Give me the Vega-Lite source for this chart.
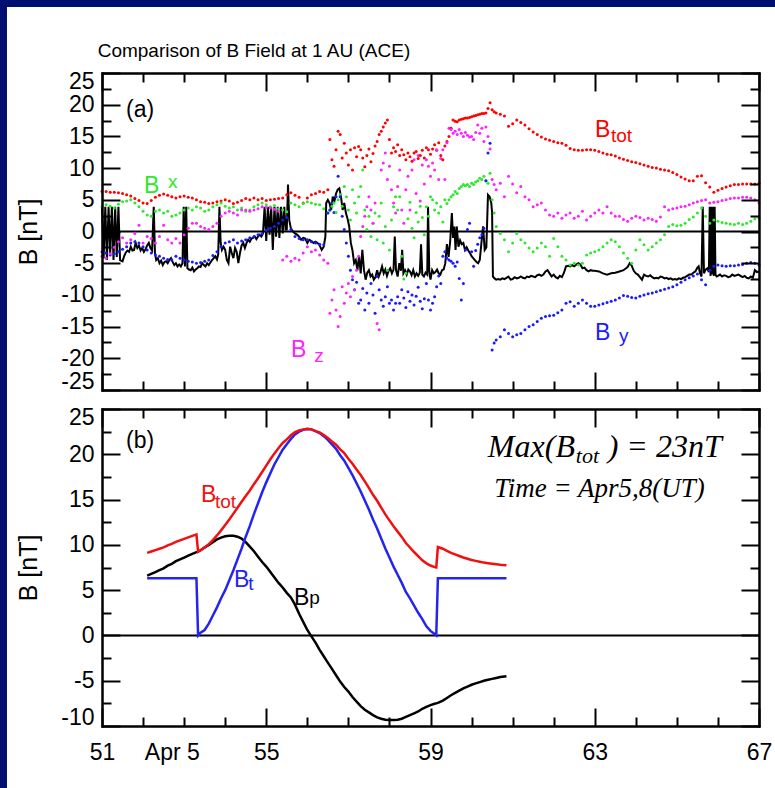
{
"$schema": "https://vega.github.io/schema/vega-lite/v6.json",
"background": "#001070",
"padding": {"left": 6, "top": 7, "right": 0, "bottom": 0},
"bounds": "flush",
"spacing": 19,
"resolve": {"scale": {"color": "independent"}},
"config": {
  "view": {"stroke": null},
  "axis": {"grid": false, "domainColor": "#000000", "domainWidth": 2, "domainCap": "square", "tickColor": "#000000", "tickWidth": 2, "labelFont": "Liberation Sans", "labelFontSize": 23, "labelColor": "#000000", "titleFont": "Liberation Sans", "titleFontSize": 25, "titleFontWeight": "normal", "titleColor": "#000000", "labelOverlap": false, "labelFlushOffset": 3}
},
"datasets": {
"ace": [
{"t":51.0,"Btot":6.3,"Bx":3.9,"By":-3.2,"Bz":-3.9},
{"t":51.1,"Btot":6.3,"Bx":4.2,"By":-3.4,"Bz":-4.2},
{"t":51.2,"Btot":6.2,"Bx":4.0,"By":-3.7,"Bz":-3.5},
{"t":51.3,"Btot":6.2,"Bx":3.7,"By":-3.5,"Bz":-2.5},
{"t":51.4,"Btot":6.1,"Bx":4.3,"By":-3.2,"Bz":-1.6},
{"t":51.5,"Btot":6.0,"Bx":4.7,"By":-2.8,"Bz":-1.0},
{"t":51.6,"Btot":5.8,"Bx":4.8,"By":-2.4,"Bz":-1.8},
{"t":51.7,"Btot":5.6,"Bx":5.0,"By":-1.8,"Bz":-1.3},
{"t":51.8,"Btot":5.2,"Bx":4.5,"By":-1.6,"Bz":-0.3},
{"t":51.9,"Btot":4.9,"Bx":3.9,"By":-1.8,"Bz":1.0},
{"t":52.0,"Btot":4.5,"Bx":3.2,"By":-2.4,"Bz":-1.8},
{"t":52.1,"Btot":4.4,"Bx":2.6,"By":-2.9,"Bz":-0.8},
{"t":52.2,"Btot":4.9,"Bx":2.4,"By":-3.4,"Bz":-1.1},
{"t":52.3,"Btot":5.4,"Bx":3.2,"By":-3.7,"Bz":-1.8},
{"t":52.4,"Btot":5.7,"Bx":3.4,"By":-3.9,"Bz":-0.8},
{"t":52.5,"Btot":5.9,"Bx":2.9,"By":-4.2,"Bz":1.0},
{"t":52.6,"Btot":5.7,"Bx":3.2,"By":-4.4,"Bz":-1.3},
{"t":52.7,"Btot":5.5,"Bx":2.4,"By":-4.5,"Bz":-1.8},
{"t":52.8,"Btot":5.3,"Bx":2.6,"By":-3.9,"Bz":-1.1},
{"t":52.9,"Btot":5.5,"Bx":2.9,"By":-4.2,"Bz":-1.8},
{"t":53.0,"Btot":5.6,"Bx":3.4,"By":-4.5,"Bz":-0.5},
{"t":53.1,"Btot":5.4,"Bx":3.7,"By":-4.7,"Bz":0.5},
{"t":53.2,"Btot":5.3,"Bx":3.4,"By":-4.8,"Bz":1.3},
{"t":53.3,"Btot":5.0,"Bx":3.9,"By":-5.0,"Bz":1.3},
{"t":53.4,"Btot":4.7,"Bx":3.7,"By":-4.9,"Bz":0.8},
{"t":53.5,"Btot":4.6,"Bx":3.2,"By":-4.7,"Bz":0.5},
{"t":53.6,"Btot":4.4,"Bx":3.4,"By":-4.5,"Bz":0.3},
{"t":53.7,"Btot":4.5,"Bx":3.9,"By":-3.8,"Bz":0.8},
{"t":53.8,"Btot":4.7,"Bx":4.2,"By":-3.2,"Bz":1.3},
{"t":53.9,"Btot":4.8,"Bx":4.5,"By":-2.4,"Bz":2.4},
{"t":54.0,"Btot":5.0,"Bx":4.0,"By":-1.8,"Bz":2.9},
{"t":54.1,"Btot":4.8,"Bx":3.7,"By":-1.6,"Bz":3.2},
{"t":54.2,"Btot":4.4,"Bx":3.9,"By":-1.3,"Bz":2.9},
{"t":54.3,"Btot":4.6,"Bx":3.4,"By":-1.8,"Bz":2.6},
{"t":54.4,"Btot":4.9,"Bx":3.7,"By":-1.5,"Bz":3.4},
{"t":54.5,"Btot":5.2,"Bx":3.2,"By":-1.3,"Bz":3.4},
{"t":54.6,"Btot":5.0,"Bx":3.4,"By":-1.0,"Bz":3.2},
{"t":54.7,"Btot":5.3,"Bx":3.9,"By":-0.8,"Bz":3.4},
{"t":54.8,"Btot":5.0,"Bx":4.2,"By":-0.5,"Bz":3.6},
{"t":54.9,"Btot":5.2,"Bx":4.5,"By":-0.3,"Bz":3.9},
{"t":55.0,"Btot":4.9,"Bx":4.2,"By":0.2,"Bz":3.8},
{"t":55.1,"Btot":5.0,"Bx":3.9,"By":0.5,"Bz":3.7},
{"t":55.2,"Btot":5.1,"Bx":4.1,"By":0.8,"Bz":3.5},
{"t":55.3,"Btot":5.2,"Bx":3.6,"By":1.3,"Bz":3.2},
{"t":55.4,"Btot":5.3,"Bx":3.4,"By":1.8,"Bz":-4.5},
{"t":55.5,"Btot":5.8,"Bx":3.1,"By":2.2,"Bz":-3.9},
{"t":55.6,"Btot":6.1,"Bx":4.5,"By":0.3,"Bz":-4.7},
{"t":55.7,"Btot":5.7,"Bx":4.2,"By":-0.8,"Bz":-4.2},
{"t":55.8,"Btot":5.4,"Bx":3.9,"By":-1.1,"Bz":-4.5},
{"t":55.9,"Btot":4.5,"Bx":4.4,"By":-1.3,"Bz":-3.4},
{"t":56.0,"Btot":5.3,"Bx":4.7,"By":-1.3,"Bz":-2.4},
{"t":56.1,"Btot":5.8,"Bx":4.5,"By":-1.6,"Bz":-3.2},
{"t":56.2,"Btot":6.0,"Bx":4.3,"By":-1.8,"Bz":-2.9},
{"t":56.3,"Btot":6.3,"Bx":4.2,"By":-2.0,"Bz":-3.7},
{"t":56.4,"Btot":6.2,"Bx":3.6,"By":-2.1,"Bz":-4.5},
{"t":56.5,"Btot":6.6,"Bx":2.9,"By":2.9,"Bz":-5.0},
{"t":56.55,"Btot":14.5,"Bx":3.4,"By":3.4,"Bz":-12.9},
{"t":56.6,"Btot":11.3,"Bx":4.0,"By":4.5,"Bz":-10.8},
{"t":56.65,"Btot":10.3,"Bx":4.5,"By":3.0,"Bz":-9.2},
{"t":56.7,"Btot":12.9,"Bx":3.0,"By":5.5,"Bz":-12.4},
{"t":56.75,"Btot":15.8,"Bx":5.0,"By":8.7,"Bz":-15.0},
{"t":56.8,"Btot":15.3,"Bx":5.8,"By":5.5,"Bz":-13.4},
{"t":56.85,"Btot":11.6,"Bx":4.0,"By":2.4,"Bz":-8.7},
{"t":56.9,"Btot":13.9,"Bx":7.1,"By":0.3,"Bz":-11.3},
{"t":56.95,"Btot":12.4,"Bx":5.5,"By":-1.8,"Bz":-9.7},
{"t":57.0,"Btot":10.5,"Bx":3.4,"By":-3.9,"Bz":-8.2},
{"t":57.05,"Btot":12.9,"Bx":1.8,"By":-6.1,"Bz":-10.3},
{"t":57.1,"Btot":9.7,"Bx":6.6,"By":-7.6,"Bz":-7.1},
{"t":57.15,"Btot":13.2,"Bx":4.5,"By":-9.2,"Bz":-9.2},
{"t":57.2,"Btot":11.8,"Bx":2.9,"By":-8.0,"Bz":-6.1},
{"t":57.25,"Btot":13.4,"Bx":5.5,"By":-11.3,"Bz":-3.9},
{"t":57.3,"Btot":12.9,"Bx":7.1,"By":-10.8,"Bz":-0.8},
{"t":57.35,"Btot":11.6,"Bx":9.7,"By":-9.0,"Bz":0.8},
{"t":57.4,"Btot":10.2,"Bx":3.4,"By":-12.4,"Bz":2.4},
{"t":57.45,"Btot":12.0,"Bx":0.3,"By":-9.7,"Bz":3.9},
{"t":57.5,"Btot":13.0,"Bx":2.4,"By":-11.3,"Bz":5.5},
{"t":57.55,"Btot":11.0,"Bx":-0.8,"By":-8.2,"Bz":3.4},
{"t":57.6,"Btot":12.3,"Bx":1.3,"By":-10.0,"Bz":1.3},
{"t":57.65,"Btot":13.5,"Bx":2.9,"By":-12.9,"Bz":4.5},
{"t":57.7,"Btot":14.2,"Bx":-1.3,"By":-7.1,"Bz":-14.5},
{"t":57.75,"Btot":15.3,"Bx":2.4,"By":-9.2,"Bz":-15.5},
{"t":57.8,"Btot":15.8,"Bx":4.5,"By":-10.8,"Bz":9.7},
{"t":57.85,"Btot":16.5,"Bx":-1.8,"By":-11.8,"Bz":10.8},
{"t":57.9,"Btot":17.1,"Bx":0.8,"By":-10.3,"Bz":12.4},
{"t":57.95,"Btot":17.6,"Bx":-6.1,"By":-8.7,"Bz":8.2},
{"t":58.0,"Btot":14.5,"Bx":-2.9,"By":-11.3,"Bz":10.3},
{"t":58.05,"Btot":12.4,"Bx":1.8,"By":-10.8,"Bz":6.6},
{"t":58.1,"Btot":13.2,"Bx":3.9,"By":-12.4,"Bz":4.5},
{"t":58.15,"Btot":12.6,"Bx":5.5,"By":-11.3,"Bz":2.9},
{"t":58.2,"Btot":13.7,"Bx":3.4,"By":-10.3,"Bz":7.1},
{"t":58.25,"Btot":12.0,"Bx":5.5,"By":-11.3,"Bz":9.7},
{"t":58.3,"Btot":12.9,"Bx":-3.9,"By":-9.2,"Bz":3.4},
{"t":58.35,"Btot":12.1,"Bx":-7.5,"By":-10.5,"Bz":1.3},
{"t":58.4,"Btot":11.3,"Bx":-6.6,"By":-12.0,"Bz":6.6},
{"t":58.45,"Btot":12.4,"Bx":2.0,"By":-9.5,"Bz":8.7},
{"t":58.5,"Btot":11.8,"Bx":4.6,"By":-11.0,"Bz":3.4},
{"t":58.55,"Btot":11.1,"Bx":0.5,"By":-10.0,"Bz":9.7},
{"t":58.6,"Btot":12.4,"Bx":-1.0,"By":-11.6,"Bz":11.3},
{"t":58.65,"Btot":12.6,"Bx":3.0,"By":-10.2,"Bz":6.0},
{"t":58.7,"Btot":11.5,"Bx":1.5,"By":-8.8,"Bz":12.0},
{"t":58.75,"Btot":12.0,"Bx":4.0,"By":-11.0,"Bz":4.8},
{"t":58.8,"Btot":12.8,"Bx":2.2,"By":-12.2,"Bz":10.5},
{"t":58.85,"Btot":11.6,"Bx":-0.5,"By":-10.6,"Bz":7.5},
{"t":58.9,"Btot":13.2,"Bx":3.9,"By":-8.2,"Bz":11.3},
{"t":58.95,"Btot":12.9,"Bx":2.4,"By":-10.8,"Bz":10.3},
{"t":59.0,"Btot":12.2,"Bx":5.5,"By":-12.4,"Bz":8.7},
{"t":59.05,"Btot":13.0,"Bx":5.0,"By":-11.3,"Bz":10.8},
{"t":59.1,"Btot":13.7,"Bx":3.4,"By":-10.3,"Bz":9.7},
{"t":59.15,"Btot":12.8,"Bx":4.5,"By":-8.7,"Bz":12.9},
{"t":59.2,"Btot":14.0,"Bx":2.9,"By":-7.0,"Bz":8.2},
{"t":59.25,"Btot":12.0,"Bx":3.9,"By":-8.2,"Bz":11.5},
{"t":59.3,"Btot":11.3,"Bx":1.5,"By":-3.9,"Bz":12.9},
{"t":59.35,"Btot":13.5,"Bx":5.0,"By":-3.2,"Bz":8.2},
{"t":59.4,"Btot":14.2,"Bx":4.4,"By":-4.2,"Bz":14.0},
{"t":59.45,"Btot":15.0,"Bx":5.0,"By":-4.5,"Bz":16.3},
{"t":59.5,"Btot":16.3,"Bx":5.5,"By":-4.7,"Bz":16.1},
{"t":59.55,"Btot":17.6,"Bx":5.8,"By":-5.0,"Bz":15.5},
{"t":59.6,"Btot":17.4,"Bx":6.3,"By":-5.5,"Bz":15.8},
{"t":59.65,"Btot":17.3,"Bx":6.0,"By":-4.8,"Bz":15.3},
{"t":59.7,"Btot":17.6,"Bx":6.8,"By":-7.4,"Bz":16.1},
{"t":59.75,"Btot":17.7,"Bx":7.1,"By":-10.8,"Bz":15.5},
{"t":59.8,"Btot":17.8,"Bx":7.4,"By":-8.2,"Bz":15.0},
{"t":59.85,"Btot":17.9,"Bx":7.2,"By":-2.9,"Bz":15.6},
{"t":59.9,"Btot":17.9,"Bx":7.4,"By":0.3,"Bz":15.2},
{"t":59.95,"Btot":18.0,"Bx":7.1,"By":1.3,"Bz":14.9},
{"t":60.0,"Btot":18.1,"Bx":7.6,"By":-3.2,"Bz":15.0},
{"t":60.05,"Btot":18.2,"Bx":7.4,"By":-5.5,"Bz":14.5},
{"t":60.1,"Btot":18.3,"Bx":7.8,"By":-3.0,"Bz":15.6},
{"t":60.15,"Btot":18.4,"Bx":8.0,"By":-2.0,"Bz":16.8},
{"t":60.2,"Btot":18.5,"Bx":8.4,"By":-1.0,"Bz":15.5},
{"t":60.25,"Btot":18.6,"Bx":8.2,"By":-0.5,"Bz":16.3},
{"t":60.3,"Btot":18.6,"Bx":8.7,"By":0.5,"Bz":14.2},
{"t":60.35,"Btot":18.7,"Bx":8.0,"By":8.0,"Bz":16.5},
{"t":60.4,"Btot":19.4,"Bx":7.6,"By":12.4,"Bz":15.0},
{"t":60.45,"Btot":20.3,"Bx":9.2,"By":13.9,"Bz":13.0},
{"t":60.5,"Btot":19.2,"Bx":5.0,"By":-18.7,"Bz":8.2},
{"t":60.55,"Btot":18.9,"Bx":2.9,"By":-17.6,"Bz":7.4},
{"t":60.6,"Btot":18.7,"Bx":0.8,"By":-17.1,"Bz":6.6},
{"t":60.7,"Btot":18.5,"Bx":-0.3,"By":-16.6,"Bz":7.6},
{"t":60.8,"Btot":18.2,"Bx":-1.3,"By":-15.5,"Bz":5.5},
{"t":60.9,"Btot":16.6,"Bx":-3.2,"By":-16.1,"Bz":8.7},
{"t":61.0,"Btot":17.0,"Bx":-1.8,"By":-16.6,"Bz":7.5},
{"t":61.1,"Btot":17.6,"Bx":-0.3,"By":-16.3,"Bz":6.1},
{"t":61.2,"Btot":17.2,"Bx":-1.3,"By":-16.1,"Bz":7.1},
{"t":61.3,"Btot":16.8,"Bx":-1.8,"By":-15.5,"Bz":5.5},
{"t":61.4,"Btot":16.2,"Bx":-2.6,"By":-15.0,"Bz":5.0},
{"t":61.5,"Btot":15.7,"Bx":-3.2,"By":-14.7,"Bz":3.9},
{"t":61.6,"Btot":15.3,"Bx":-2.6,"By":-14.2,"Bz":4.2},
{"t":61.7,"Btot":14.9,"Bx":-1.8,"By":-13.7,"Bz":4.5},
{"t":61.8,"Btot":14.6,"Bx":-2.4,"By":-13.4,"Bz":3.4},
{"t":61.9,"Btot":14.4,"Bx":-3.9,"By":-13.3,"Bz":2.6},
{"t":62.0,"Btot":14.2,"Bx":-1.1,"By":-13.2,"Bz":2.4},
{"t":62.1,"Btot":14.0,"Bx":-2.4,"By":-12.8,"Bz":2.9},
{"t":62.2,"Btot":13.9,"Bx":-3.9,"By":-12.4,"Bz":2.1},
{"t":62.3,"Btot":13.6,"Bx":-4.5,"By":-11.3,"Bz":2.6},
{"t":62.4,"Btot":13.1,"Bx":-5.3,"By":-11.1,"Bz":2.9},
{"t":62.5,"Btot":12.9,"Bx":-5.0,"By":-11.8,"Bz":2.1},
{"t":62.6,"Btot":12.8,"Bx":-5.3,"By":-11.3,"Bz":2.4},
{"t":62.7,"Btot":12.8,"Bx":-5.0,"By":-10.8,"Bz":3.2},
{"t":62.8,"Btot":12.9,"Bx":-3.7,"By":-11.3,"Bz":1.8},
{"t":62.9,"Btot":12.9,"Bx":-3.4,"By":-11.8,"Bz":2.4},
{"t":63.0,"Btot":12.8,"Bx":-3.2,"By":-11.8,"Bz":2.9},
{"t":63.1,"Btot":12.6,"Bx":-2.9,"By":-11.6,"Bz":3.4},
{"t":63.2,"Btot":12.4,"Bx":-2.4,"By":-11.4,"Bz":2.9},
{"t":63.3,"Btot":12.2,"Bx":-1.8,"By":-11.2,"Bz":3.9},
{"t":63.4,"Btot":12.1,"Bx":-1.3,"By":-11.0,"Bz":2.9},
{"t":63.5,"Btot":11.9,"Bx":-1.6,"By":-10.8,"Bz":2.4},
{"t":63.6,"Btot":11.6,"Bx":-2.4,"By":-10.5,"Bz":2.4},
{"t":63.7,"Btot":11.4,"Bx":-3.4,"By":-10.1,"Bz":1.9},
{"t":63.8,"Btot":11.2,"Bx":-4.2,"By":-10.2,"Bz":1.6},
{"t":63.9,"Btot":11.0,"Bx":-5.0,"By":-10.4,"Bz":2.1},
{"t":64.0,"Btot":10.9,"Bx":-2.9,"By":-10.5,"Bz":2.4},
{"t":64.1,"Btot":10.7,"Bx":-1.3,"By":-10.2,"Bz":2.2},
{"t":64.2,"Btot":10.5,"Bx":-2.1,"By":-10.0,"Bz":1.8},
{"t":64.3,"Btot":10.3,"Bx":-2.9,"By":-9.8,"Bz":2.1},
{"t":64.4,"Btot":10.1,"Bx":-2.4,"By":-9.7,"Bz":1.9},
{"t":64.5,"Btot":10.0,"Bx":-1.8,"By":-9.5,"Bz":1.6},
{"t":64.6,"Btot":9.8,"Bx":-1.3,"By":-9.3,"Bz":2.3},
{"t":64.7,"Btot":9.7,"Bx":-0.5,"By":-9.1,"Bz":3.9},
{"t":64.8,"Btot":9.6,"Bx":0.8,"By":-8.9,"Bz":3.4},
{"t":64.9,"Btot":9.3,"Bx":1.1,"By":-8.7,"Bz":3.6},
{"t":65.0,"Btot":9.0,"Bx":0.9,"By":-8.4,"Bz":3.7},
{"t":65.1,"Btot":8.6,"Bx":1.0,"By":-8.0,"Bz":3.9},
{"t":65.2,"Btot":8.3,"Bx":1.3,"By":-7.6,"Bz":4.0},
{"t":65.3,"Btot":8.0,"Bx":1.9,"By":-7.3,"Bz":4.2},
{"t":65.4,"Btot":8.0,"Bx":2.3,"By":-7.0,"Bz":4.5},
{"t":65.5,"Btot":8.7,"Bx":2.9,"By":-6.7,"Bz":4.7},
{"t":65.6,"Btot":8.8,"Bx":3.7,"By":-7.6,"Bz":4.9},
{"t":65.7,"Btot":7.7,"Bx":2.4,"By":-8.4,"Bz":5.0},
{"t":65.8,"Btot":7.0,"Bx":1.3,"By":-6.1,"Bz":4.5},
{"t":65.9,"Btot":6.2,"Bx":1.8,"By":-5.5,"Bz":4.6},
{"t":66.0,"Btot":6.5,"Bx":1.6,"By":-5.3,"Bz":4.7},
{"t":66.1,"Btot":6.8,"Bx":1.4,"By":-5.4,"Bz":4.9},
{"t":66.2,"Btot":7.0,"Bx":1.3,"By":-5.5,"Bz":5.0},
{"t":66.3,"Btot":7.2,"Bx":1.2,"By":-5.4,"Bz":5.2},
{"t":66.4,"Btot":7.4,"Bx":1.1,"By":-5.4,"Bz":5.3},
{"t":66.5,"Btot":7.4,"Bx":1.3,"By":-5.3,"Bz":5.3},
{"t":66.6,"Btot":7.5,"Bx":1.1,"By":-5.2,"Bz":5.4},
{"t":66.7,"Btot":7.5,"Bx":1.3,"By":-5.0,"Bz":5.4},
{"t":66.8,"Btot":7.5,"Bx":1.6,"By":-4.9,"Bz":5.3},
{"t":66.9,"Btot":7.5,"Bx":2.0,"By":-5.0,"Bz":5.0},
{"t":67.0,"Btot":7.6,"Bx":2.1,"By":-5.3,"Bz":4.5}
],
"k": [
{"t":51.0,"v":3.9},{"t":51.04,"v":-4.2},{"t":51.08,"v":3.9},{"t":51.12,"v":-4.5},{"t":51.16,"v":3.9},{"t":51.2,"v":-3.6},{"t":51.24,"v":3.9},{"t":51.28,"v":-4.5},{"t":51.32,"v":3.9},{"t":51.36,"v":-4.0},{"t":51.4,"v":3.9},{"t":51.44,"v":-4.5},
{"t":51.5,"v":-4.7},{"t":51.54,"v":-3.9},{"t":51.58,"v":-3.3},{"t":51.62,"v":-3.0},{"t":51.66,"v":-3.2},{"t":51.7,"v":-2.4},{"t":51.74,"v":-3.0},{"t":51.78,"v":-2.9},{"t":51.82,"v":-1.8},{"t":51.86,"v":-2.6},{"t":51.9,"v":-2.2},{"t":51.94,"v":-3.0},{"t":51.98,"v":-2.6},{"t":52.02,"v":-3.2},{"t":52.06,"v":-2.8},{"t":52.1,"v":-2.2},{"t":52.14,"v":-1.8},{"t":52.18,"v":-2.6},{"t":52.22,"v":-3.0},{"t":52.26,"v":3.9},{"t":52.29,"v":-3.4},
{"t":52.32,"v":-4.5},{"t":52.36,"v":-4.2},{"t":52.4,"v":-5.0},{"t":52.44,"v":-4.6},{"t":52.48,"v":-5.3},{"t":52.52,"v":-4.8},{"t":52.56,"v":-4.7},{"t":52.6,"v":-5.0},{"t":52.64,"v":-4.5},{"t":52.68,"v":-4.2},{"t":52.72,"v":-4.8},{"t":52.76,"v":-5.3},{"t":52.8,"v":-5.0},{"t":52.84,"v":-5.5},{"t":52.88,"v":-5.2},{"t":52.92,"v":-5.5},{"t":52.96,"v":-5.0},{"t":52.99,"v":3.9},{"t":53.02,"v":-5.5},{"t":53.05,"v":3.9},{"t":53.08,"v":-5.8},
{"t":53.12,"v":-6.0},{"t":53.16,"v":-6.1},{"t":53.2,"v":-5.7},{"t":53.24,"v":-6.3},{"t":53.28,"v":-6.0},{"t":53.32,"v":-5.8},{"t":53.36,"v":-5.5},{"t":53.4,"v":-5.6},{"t":53.44,"v":-5.0},{"t":53.48,"v":-5.3},{"t":53.52,"v":-5.5},{"t":53.56,"v":-5.0},{"t":53.6,"v":-5.3},{"t":53.64,"v":-4.9},{"t":53.68,"v":-4.5},{"t":53.72,"v":-4.2},{"t":53.76,"v":-3.9},{"t":53.8,"v":-4.4},{"t":53.83,"v":-3.6},{"t":53.86,"v":3.9},{"t":53.89,"v":-1.8},
{"t":53.92,"v":-2.9},{"t":53.96,"v":-2.4},{"t":54.0,"v":-2.9},{"t":54.04,"v":-4.5},{"t":54.08,"v":-5.0},{"t":54.12,"v":-2.4},{"t":54.16,"v":-3.4},{"t":54.2,"v":-4.2},{"t":54.24,"v":-2.6},{"t":54.28,"v":-3.2},{"t":54.32,"v":-5.0},{"t":54.36,"v":-3.4},{"t":54.4,"v":-2.2},{"t":54.44,"v":-1.8},{"t":54.48,"v":-2.6},{"t":54.52,"v":-1.8},{"t":54.56,"v":-1.3},{"t":54.6,"v":-1.6},{"t":54.64,"v":-1.1},{"t":54.68,"v":-1.0},{"t":54.72,"v":-0.8},{"t":54.76,"v":-1.2},{"t":54.8,"v":-0.8},{"t":54.84,"v":-0.5},{"t":54.88,"v":-0.8},{"t":54.92,"v":-0.3},
{"t":54.96,"v":3.9},{"t":55.0,"v":-1.5},{"t":55.04,"v":3.9},{"t":55.08,"v":-0.5},{"t":55.12,"v":3.9},{"t":55.16,"v":-2.9},{"t":55.2,"v":3.9},{"t":55.24,"v":-0.8},{"t":55.28,"v":3.9},{"t":55.32,"v":-1.0},{"t":55.36,"v":3.9},{"t":55.4,"v":-0.3},{"t":55.44,"v":3.9},{"t":55.47,"v":0.3},
{"t":55.5,"v":0.3},{"t":55.53,"v":7.4},{"t":55.56,"v":1.8},{"t":55.6,"v":0.5},{"t":55.65,"v":0.0},{"t":55.7,"v":-0.3},{"t":55.75,"v":-0.5},{"t":55.8,"v":-0.8},{"t":55.85,"v":-1.3},{"t":55.9,"v":-1.0},{"t":55.95,"v":-1.1},{"t":56.0,"v":-1.8},{"t":56.05,"v":-1.3},{"t":56.1,"v":-1.5},{"t":56.15,"v":-1.8},{"t":56.2,"v":-1.6},{"t":56.25,"v":-1.8},{"t":56.3,"v":-2.2},{"t":56.35,"v":-2.9},{"t":56.4,"v":-2.4},{"t":56.44,"v":-0.8},
{"t":56.46,"v":4.5},{"t":56.5,"v":5.0},{"t":56.54,"v":4.5},{"t":56.58,"v":3.4},{"t":56.62,"v":5.5},{"t":56.66,"v":4.8},{"t":56.7,"v":6.0},{"t":56.74,"v":6.6},{"t":56.78,"v":6.8},{"t":56.82,"v":5.5},{"t":56.86,"v":3.4},{"t":56.9,"v":4.5},{"t":56.94,"v":2.9},{"t":56.98,"v":2.0},{"t":57.02,"v":0.8},{"t":57.06,"v":-1.8},{"t":57.1,"v":-3.0},{"t":57.14,"v":-5.0},{"t":57.18,"v":-4.5},{"t":57.22,"v":-6.1},{"t":57.26,"v":-3.9},{"t":57.3,"v":-6.6},{"t":57.34,"v":-2.9},{"t":57.38,"v":-6.1},{"t":57.42,"v":-7.6},{"t":57.46,"v":-6.5},{"t":57.5,"v":-6.1},{"t":57.54,"v":-7.1},{"t":57.58,"v":-6.8},{"t":57.62,"v":-7.6},{"t":57.66,"v":-7.2},{"t":57.7,"v":-6.1},{"t":57.74,"v":-7.1},{"t":57.78,"v":-6.4},{"t":57.82,"v":-5.5},{"t":57.86,"v":-6.6},{"t":57.9,"v":-6.0},{"t":57.94,"v":-7.0},{"t":57.98,"v":-6.2},{"t":58.02,"v":-5.8},{"t":58.06,"v":-6.6},{"t":58.1,"v":-6.0},{"t":58.13,"v":-0.8},{"t":58.16,"v":-6.1},{"t":58.2,"v":-7.1},{"t":58.24,"v":-5.0},{"t":58.28,"v":-6.2},{"t":58.31,"v":-2.9},{"t":58.34,"v":-6.6},{"t":58.38,"v":-6.1},{"t":58.42,"v":-6.8},{"t":58.46,"v":-6.0},{"t":58.5,"v":-6.3},{"t":58.54,"v":-6.9},{"t":58.58,"v":-6.1},{"t":58.62,"v":-7.1},{"t":58.66,"v":-6.6},{"t":58.7,"v":-7.0},{"t":58.74,"v":-6.5},{"t":58.77,"v":-2.0},{"t":58.8,"v":-6.8},{"t":58.84,"v":-7.1},{"t":58.88,"v":-6.5},{"t":58.92,"v":-6.8},{"t":58.94,"v":3.9},{"t":58.97,"v":-6.3},
{"t":59.0,"v":-7.6},{"t":59.04,"v":-6.1},{"t":59.08,"v":-6.6},{"t":59.12,"v":-6.4},{"t":59.16,"v":-6.0},{"t":59.2,"v":-6.6},{"t":59.24,"v":-6.8},{"t":59.28,"v":-6.1},{"t":59.32,"v":-6.0},{"t":59.36,"v":-5.0},{"t":59.4,"v":-2.0},{"t":59.44,"v":-4.0},{"t":59.48,"v":-1.5},{"t":59.52,"v":2.9},{"t":59.55,"v":-1.0},{"t":59.58,"v":0.8},{"t":59.61,"v":-2.9},{"t":59.64,"v":0.8},{"t":59.68,"v":-2.4},{"t":59.72,"v":-1.4},{"t":59.76,"v":-2.0},{"t":59.8,"v":-1.8},{"t":59.84,"v":-2.9},{"t":59.88,"v":-2.5},{"t":59.92,"v":-3.0},{"t":59.96,"v":-3.4},{"t":60.0,"v":-3.9},{"t":60.04,"v":-4.2},{"t":60.08,"v":-4.5},{"t":60.12,"v":-4.8},{"t":60.16,"v":-5.0},{"t":60.2,"v":-4.5},{"t":60.24,"v":-1.8},{"t":60.28,"v":0.8},{"t":60.32,"v":-2.9},{"t":60.36,"v":-2.5},{"t":60.4,"v":5.8},{"t":60.44,"v":5.5},{"t":60.48,"v":4.5},{"t":60.5,"v":3.0},{"t":60.52,"v":-7.1},
{"t":60.56,"v":-7.4},{"t":60.6,"v":-7.6},{"t":60.65,"v":-7.5},{"t":60.7,"v":-7.6},{"t":60.75,"v":-7.4},{"t":60.8,"v":-7.5},{"t":60.85,"v":-7.3},{"t":60.9,"v":-7.1},{"t":60.95,"v":-7.6},{"t":61.0,"v":-7.5},{"t":61.05,"v":-7.2},{"t":61.1,"v":-7.4},{"t":61.15,"v":-7.3},{"t":61.2,"v":-7.1},{"t":61.25,"v":-7.3},{"t":61.3,"v":-7.4},{"t":61.35,"v":-7.1},{"t":61.4,"v":-7.2},{"t":61.45,"v":-7.0},{"t":61.5,"v":-7.1},{"t":61.55,"v":-7.2},{"t":61.6,"v":-6.9},{"t":61.65,"v":-6.8},{"t":61.7,"v":-7.0},{"t":61.75,"v":-6.8},{"t":61.8,"v":-6.3},{"t":61.85,"v":-6.1},{"t":61.9,"v":-6.6},{"t":61.95,"v":-7.1},{"t":62.0,"v":-6.8},{"t":62.05,"v":-7.2},{"t":62.1,"v":-7.4},{"t":62.15,"v":-7.0},{"t":62.2,"v":-7.2},{"t":62.25,"v":-6.5},{"t":62.3,"v":-5.5},{"t":62.35,"v":-5.4},{"t":62.4,"v":-5.5},{"t":62.45,"v":-5.3},{"t":62.5,"v":-5.5},{"t":62.55,"v":-5.2},{"t":62.6,"v":-5.0},{"t":62.65,"v":-5.2},{"t":62.7,"v":-5.8},{"t":62.75,"v":-5.7},{"t":62.8,"v":-6.1},{"t":62.85,"v":-6.3},{"t":62.9,"v":-6.1},{"t":62.95,"v":-6.2},
{"t":63.0,"v":-6.2},{"t":63.1,"v":-6.3},{"t":63.2,"v":-6.6},{"t":63.3,"v":-6.8},{"t":63.4,"v":-6.6},{"t":63.5,"v":-6.5},{"t":63.6,"v":-6.3},{"t":63.7,"v":-6.1},{"t":63.8,"v":-5.6},{"t":63.85,"v":-5.0},{"t":63.9,"v":-5.4},{"t":63.95,"v":-6.2},{"t":64.0,"v":-6.6},{"t":64.05,"v":-6.8},{"t":64.1,"v":-7.2},{"t":64.15,"v":-7.6},{"t":64.2,"v":-6.8},{"t":64.25,"v":-7.0},{"t":64.3,"v":-7.1},{"t":64.35,"v":-6.9},{"t":64.4,"v":-7.2},{"t":64.45,"v":-7.4},{"t":64.5,"v":-7.3},{"t":64.55,"v":-7.4},{"t":64.6,"v":-7.1},{"t":64.65,"v":-7.2},{"t":64.7,"v":-7.4},{"t":64.75,"v":-7.3},{"t":64.8,"v":-7.5},{"t":64.85,"v":-7.4},{"t":64.9,"v":-7.6},{"t":64.95,"v":-7.5},{"t":65.0,"v":-7.6},{"t":65.05,"v":-7.4},{"t":65.1,"v":-7.5},{"t":65.15,"v":-7.3},{"t":65.2,"v":-7.2},{"t":65.25,"v":-7.0},{"t":65.3,"v":-6.8},{"t":65.35,"v":-6.8},{"t":65.4,"v":-6.5},{"t":65.45,"v":-6.3},{"t":65.5,"v":-5.7},{"t":65.53,"v":-5.5},{"t":65.56,"v":-6.5},{"t":65.6,"v":-7.1},{"t":65.63,"v":3.9},{"t":65.66,"v":-6.6},{"t":65.7,"v":-6.0},{"t":65.74,"v":-5.8},{"t":65.78,"v":-6.4},
{"t":65.8,"v":3.9},{"t":65.82,"v":-7.0},{"t":65.84,"v":3.9},{"t":65.86,"v":-6.8},{"t":65.88,"v":3.9},{"t":65.9,"v":-7.0},{"t":65.92,"v":3.9},{"t":65.94,"v":-6.8},{"t":65.97,"v":-7.1},
{"t":66.0,"v":-7.0},{"t":66.05,"v":-6.8},{"t":66.1,"v":-7.1},{"t":66.15,"v":-6.9},{"t":66.2,"v":-7.0},{"t":66.25,"v":-7.2},{"t":66.3,"v":-7.1},{"t":66.35,"v":-6.8},{"t":66.4,"v":-7.0},{"t":66.45,"v":-6.9},{"t":66.5,"v":-6.8},{"t":66.55,"v":-7.0},{"t":66.6,"v":-7.2},{"t":66.65,"v":-7.0},{"t":66.7,"v":-7.3},{"t":66.75,"v":-7.4},{"t":66.8,"v":-7.1},{"t":66.85,"v":-7.3},{"t":66.9,"v":-6.1},{"t":66.95,"v":-6.4},{"t":67.0,"v":-6.3}
],
"fr": [
{"t":52.1,"Btot":9.12,"Bt":6.3,"Bp":6.6},
{"t":52.2,"Btot":9.27,"Bt":6.3,"Bp":6.8},
{"t":52.3,"Btot":9.42,"Bt":6.3,"Bp":7.0},
{"t":52.4,"Btot":9.57,"Bt":6.3,"Bp":7.2},
{"t":52.5,"Btot":9.72,"Bt":6.3,"Bp":7.4},
{"t":52.6,"Btot":9.95,"Bt":6.3,"Bp":7.7},
{"t":52.7,"Btot":10.1,"Bt":6.3,"Bp":7.9},
{"t":52.8,"Btot":10.34,"Bt":6.3,"Bp":8.2},
{"t":52.9,"Btot":10.5,"Bt":6.3,"Bp":8.4},
{"t":53.0,"Btot":10.66,"Bt":6.3,"Bp":8.6},
{"t":53.1,"Btot":10.82,"Bt":6.3,"Bp":8.8},
{"t":53.2,"Btot":10.99,"Bt":6.3,"Bp":9.0},
{"t":53.3,"Btot":11.15,"Bt":6.3,"Bp":9.2},
{"t":53.34,"Btot":9.25,"Bt":0.0,"Bp":9.25},
{"t":53.4,"Btot":9.4,"Bt":0.3,"Bp":9.4},
{"t":53.5,"Btot":9.72,"Bt":0.6,"Bp":9.7},
{"t":53.6,"Btot":10.08,"Bt":1.3,"Bp":10.0},
{"t":53.7,"Btot":10.53,"Bt":2.2,"Bp":10.3},
{"t":53.8,"Btot":11.04,"Bt":3.1,"Bp":10.6},
{"t":53.9,"Btot":11.6,"Bt":4.1,"Bp":10.8},
{"t":54.0,"Btot":12.2,"Bt":5.0,"Bp":10.95},
{"t":54.1,"Btot":12.8,"Bt":6.1,"Bp":11.0},
{"t":54.2,"Btot":13.45,"Bt":7.2,"Bp":11.0},
{"t":54.3,"Btot":14.1,"Bt":8.4,"Bp":10.9},
{"t":54.4,"Btot":14.75,"Bt":9.6,"Bp":10.7},
{"t":54.5,"Btot":15.4,"Bt":10.9,"Bp":10.3},
{"t":54.6,"Btot":16.0,"Bt":12.1,"Bp":9.8},
{"t":54.7,"Btot":16.7,"Bt":13.4,"Bp":9.3},
{"t":54.8,"Btot":17.35,"Bt":14.6,"Bp":8.7},
{"t":54.9,"Btot":18.05,"Bt":15.8,"Bp":8.1},
{"t":55.0,"Btot":18.75,"Bt":16.9,"Bp":7.6},
{"t":55.1,"Btot":19.45,"Bt":17.9,"Bp":7.0},
{"t":55.2,"Btot":20.1,"Bt":18.9,"Bp":6.4},
{"t":55.3,"Btot":20.7,"Bt":19.7,"Bp":5.8},
{"t":55.4,"Btot":21.25,"Bt":20.5,"Bp":5.3},
{"t":55.5,"Btot":21.65,"Bt":21.1,"Bp":4.7},
{"t":55.6,"Btot":22.1,"Bt":21.7,"Bp":4.2},
{"t":55.7,"Btot":22.46,"Bt":22.2,"Bp":3.4},
{"t":55.8,"Btot":22.63,"Bt":22.5,"Bp":2.4},
{"t":55.9,"Btot":22.75,"Bt":22.7,"Bp":1.5},
{"t":56.0,"Btot":22.81,"Bt":22.8,"Bp":0.6},
{"t":56.1,"Btot":22.75,"Bt":22.75,"Bp":-0.1},
{"t":56.2,"Btot":22.56,"Bt":22.55,"Bp":-0.8},
{"t":56.3,"Btot":22.41,"Bt":22.35,"Bp":-1.6},
{"t":56.4,"Btot":22.12,"Bt":22.0,"Bp":-2.3},
{"t":56.5,"Btot":21.81,"Bt":21.6,"Bp":-3.0},
{"t":56.6,"Btot":21.42,"Bt":21.1,"Bp":-3.7},
{"t":56.7,"Btot":21.06,"Bt":20.6,"Bp":-4.4},
{"t":56.8,"Btot":20.54,"Bt":19.9,"Bp":-5.1},
{"t":56.9,"Btot":20.12,"Bt":19.3,"Bp":-5.7},
{"t":57.0,"Btot":19.51,"Bt":18.5,"Bp":-6.2},
{"t":57.1,"Btot":18.96,"Bt":17.7,"Bp":-6.8},
{"t":57.2,"Btot":18.32,"Bt":16.8,"Bp":-7.3},
{"t":57.3,"Btot":17.71,"Bt":15.9,"Bp":-7.8},
{"t":57.4,"Btot":17.01,"Bt":14.9,"Bp":-8.2},
{"t":57.5,"Btot":16.29,"Bt":13.9,"Bp":-8.5},
{"t":57.6,"Btot":15.53,"Bt":12.8,"Bp":-8.8},
{"t":57.7,"Btot":14.87,"Bt":11.8,"Bp":-9.05},
{"t":57.8,"Btot":14.11,"Bt":10.7,"Bp":-9.2},
{"t":57.9,"Btot":13.37,"Bt":9.6,"Bp":-9.3},
{"t":58.0,"Btot":12.7,"Bt":8.6,"Bp":-9.35},
{"t":58.1,"Btot":12.05,"Bt":7.6,"Bp":-9.35},
{"t":58.2,"Btot":11.46,"Bt":6.7,"Bp":-9.3},
{"t":58.3,"Btot":10.88,"Bt":5.8,"Bp":-9.2},
{"t":58.4,"Btot":10.2,"Bt":4.8,"Bp":-9.0},
{"t":58.5,"Btot":9.71,"Bt":4.1,"Bp":-8.8},
{"t":58.6,"Btot":9.21,"Bt":3.3,"Bp":-8.6},
{"t":58.7,"Btot":8.76,"Bt":2.5,"Bp":-8.4},
{"t":58.8,"Btot":8.3,"Bt":1.8,"Bp":-8.1},
{"t":58.9,"Btot":7.96,"Bt":1.0,"Bp":-7.9},
{"t":59.0,"Btot":7.72,"Bt":0.5,"Bp":-7.7},
{"t":59.1,"Btot":7.55,"Bt":0.15,"Bp":-7.55},
{"t":59.14,"Btot":7.5,"Bt":0.0,"Bp":-7.5},
{"t":59.18,"Btot":9.76,"Bt":6.3,"Bp":-7.45},
{"t":59.3,"Btot":9.57,"Bt":6.3,"Bp":-7.2},
{"t":59.4,"Btot":9.34,"Bt":6.3,"Bp":-6.9},
{"t":59.5,"Btot":9.12,"Bt":6.3,"Bp":-6.6},
{"t":59.6,"Btot":8.94,"Bt":6.3,"Bp":-6.35},
{"t":59.7,"Btot":8.77,"Bt":6.3,"Bp":-6.1},
{"t":59.8,"Btot":8.6,"Bt":6.3,"Bp":-5.85},
{"t":59.9,"Btot":8.46,"Bt":6.3,"Bp":-5.65},
{"t":60.0,"Btot":8.33,"Bt":6.3,"Bp":-5.45},
{"t":60.1,"Btot":8.23,"Bt":6.3,"Bp":-5.3},
{"t":60.2,"Btot":8.14,"Bt":6.3,"Bp":-5.15},
{"t":60.3,"Btot":8.04,"Bt":6.3,"Bp":-5.0},
{"t":60.4,"Btot":7.98,"Bt":6.3,"Bp":-4.9},
{"t":60.5,"Btot":7.92,"Bt":6.3,"Bp":-4.8},
{"t":60.6,"Btot":7.86,"Bt":6.3,"Bp":-4.7},
{"t":60.7,"Btot":7.8,"Bt":6.3,"Bp":-4.6},
{"t":60.85,"Btot":7.74,"Bt":6.3,"Bp":-4.5}
]
},
"vconcat": [
{
 "width": 657, "height": 317,
 "resolve": {"axis": {"x": "independent", "y": "independent"}},
 "layer": [
  {"data": {"values": [{}]},
   "mark": {"type": "rect", "color": "#ffffff"},
   "encoding": {
    "x": {"datum": 48.686, "type": "quantitative", "scale": {"domain": [51, 67], "nice": false, "zero": false},
          "axis": {"orient": "bottom", "values": [51,55,59,63,67], "tickSize": -18, "labels": false, "title": null, "zindex": 1}},
    "x2": {"datum": 67.414},
    "y": {"datum": 35.41, "type": "quantitative", "scale": {"domain": [-25, 25], "nice": false, "zero": false},
          "axis": {"orient": "left", "values": [-25,-20,-15,-10,-5,0,5,10,15,20,25], "tickSize": -18, "labelPadding": 26, "labelFlush": true, "labelExpr": "toString(datum.value)", "title": "B [nT]", "titlePadding": 19, "zindex": 1}},
    "y2": {"datum": -87.78}
   }},
  {"data": {"values": [{}]},
   "mark": {"type": "rule", "color": "#000000", "strokeWidth": 2},
   "encoding": {
    "x": {"datum": 51, "type": "quantitative", "axis": {"orient": "top", "values": [51,55,59,63,67], "tickSize": -18, "labels": false, "title": null, "zindex": 1}},
    "x2": {"datum": 67},
    "y": {"datum": 0, "type": "quantitative", "axis": {"orient": "right", "values": [-25,-20,-15,-10,-5,0,5,10,15,20,25], "tickSize": -18, "labels": false, "title": null, "zindex": 1}}
   }},
  {"data": {"name": "k"},
   "mark": {"type": "line", "color": "#000000", "strokeWidth": 2},
   "encoding": {
    "x": {"field": "t", "type": "quantitative", "axis": {"orient": "top", "values": [52,53,54,56,57,58,60,61,62,64,65,66], "tickSize": -9, "labels": false, "title": null, "zindex": 1}},
    "y": {"field": "v", "type": "quantitative", "axis": {"orient": "right", "values": [-22.5,-17.5,-12.5,-7.5,-2.5,2.5,7.5,12.5,17.5,22.5], "tickSize": -9, "labels": false, "title": null, "zindex": 1}}
   }},
  {"data": {"name": "ace"},
   "transform": [{"fold": ["Btot","Bx","By","Bz"], "as": ["s","val"]}],
   "mark": {"type": "circle", "size": 9, "opacity": 1},
   "encoding": {
    "x": {"field": "t", "type": "quantitative", "axis": {"orient": "bottom", "values": [52,53,54,56,57,58,60,61,62,64,65,66], "tickSize": -9, "labels": false, "title": null, "zindex": 1}},
    "y": {"field": "val", "type": "quantitative", "axis": {"orient": "left", "values": [-22.5,-17.5,-12.5,-7.5,-2.5,2.5,7.5,12.5,17.5,22.5], "tickSize": -9, "labels": false, "title": null, "zindex": 1}},
    "color": {"field": "s", "type": "nominal", "scale": {"domain": ["Btot","Bx","By","Bz"], "range": ["#ff0000","#2ee82e","#1a1aff","#ff22ff"]}, "legend": null}
   }},
  {"data": {"values": [
     {"txt":"B","t":52.023,"v":6.07,"s":"Bx"},
     {"txt":"B","t":55.603,"v":-19.75,"s":"Bz"},
     {"txt":"B","t":63.006,"v":-17.11,"s":"By"},
     {"txt":"B","t":63.006,"v":14.9,"s":"Btot"}]},
   "mark": {"type": "text", "align": "left", "baseline": "alphabetic", "font": "Liberation Sans", "fontSize": 23},
   "encoding": {
    "x": {"field": "t", "type": "quantitative", "axis": null},
    "y": {"field": "v", "type": "quantitative", "axis": null},
    "text": {"field": "txt"},
    "color": {"field": "s", "type": "nominal", "legend": null}
   }},
  {"data": {"values": [
     {"txt":"x","t":52.607,"v":6.81,"s":"Bx"},
     {"txt":"z","t":56.17,"v":-20.58,"s":"Bz"},
     {"txt":"y","t":63.59,"v":-17.48,"s":"By"},
     {"txt":"tot","t":63.396,"v":14.12,"s":"Btot"}]},
   "mark": {"type": "text", "align": "left", "baseline": "alphabetic", "font": "Liberation Sans", "fontSize": 19},
   "encoding": {
    "x": {"field": "t", "type": "quantitative", "axis": null},
    "y": {"field": "v", "type": "quantitative", "axis": null},
    "text": {"field": "txt"},
    "color": {"field": "s", "type": "nominal", "legend": null}
   }},
  {"data": {"values": [{"txt":"(a)","t":51.584,"v":18.06}]},
   "mark": {"type": "text", "align": "left", "baseline": "alphabetic", "font": "Liberation Sans", "fontSize": 23, "color": "#000000"},
   "encoding": {
    "x": {"field": "t", "type": "quantitative", "axis": null},
    "y": {"field": "v", "type": "quantitative", "axis": null},
    "text": {"field": "txt"}
   }},
  {"data": {"values": [{"txt":"Comparison of B Field at 1 AU (ACE)","t":50.895,"v":27.57}]},
   "mark": {"type": "text", "align": "left", "baseline": "alphabetic", "font": "Liberation Sans", "fontSize": 19, "color": "#000000"},
   "encoding": {
    "x": {"field": "t", "type": "quantitative", "axis": null},
    "y": {"field": "v", "type": "quantitative", "axis": null},
    "text": {"field": "txt"}
   }}
 ]
},
{
 "width": 657, "height": 317,
 "resolve": {"axis": {"x": "independent", "y": "independent"}},
 "layer": [
  {"data": {"values": [{}]},
   "mark": {"type": "rule", "color": "#000000", "strokeWidth": 2},
   "encoding": {
    "x": {"datum": 51, "type": "quantitative", "scale": {"domain": [51, 67], "nice": false, "zero": false},
          "axis": {"orient": "bottom", "values": [51,52.7,55,59,63,67], "ticks": false, "domain": false, "labelPadding": 15, "labelFlush": false, "labelExpr": "datum.value == 52.7 ? 'Apr 5' : toString(datum.value)", "title": null}},
    "x2": {"datum": 67},
    "y": {"datum": 0, "type": "quantitative", "scale": {"domain": [-10, 25], "nice": false, "zero": false},
          "axis": {"orient": "left", "values": [-10,-5,0,5,10,15,20,25], "tickSize": -18, "labelPadding": 26, "labelFlush": true, "labelExpr": "toString(datum.value)", "title": "B [nT]", "titlePadding": 19}}
   }},
  {"data": {"name": "fr"},
   "mark": {"type": "line", "color": "#000000", "strokeWidth": 2.5},
   "encoding": {
    "x": {"field": "t", "type": "quantitative", "axis": {"orient": "bottom", "values": [51,55,59,63,67], "tickSize": -18, "labels": false, "title": null}},
    "y": {"field": "Bp", "type": "quantitative", "axis": {"orient": "left", "values": [-7.5,-2.5,2.5,7.5,12.5,17.5,22.5], "tickSize": -9, "labels": false, "title": null}}
   }},
  {"data": {"name": "fr"},
   "mark": {"type": "line", "color": "#2424f0", "strokeWidth": 2.5},
   "encoding": {
    "x": {"field": "t", "type": "quantitative", "axis": {"orient": "bottom", "values": [52,53,54,56,57,58,60,61,62,64,65,66], "tickSize": -9, "labels": false, "title": null}},
    "y": {"field": "Bt", "type": "quantitative", "axis": {"orient": "right", "values": [-10,-5,0,5,10,15,20,25], "tickSize": -18, "labels": false, "title": null}}
   }},
  {"data": {"name": "fr"},
   "mark": {"type": "line", "color": "#f01010", "strokeWidth": 2.5},
   "encoding": {
    "x": {"field": "t", "type": "quantitative", "axis": {"orient": "top", "values": [51,55,59,63,67], "tickSize": -18, "labels": false, "title": null}},
    "y": {"field": "Btot", "type": "quantitative", "axis": {"orient": "right", "values": [-7.5,-2.5,2.5,7.5,12.5,17.5,22.5], "tickSize": -9, "labels": false, "title": null}}
   }},
  {"data": {"values": [{"txt":"(b)","t":51.584,"v":20.64}]},
   "mark": {"type": "text", "align": "left", "baseline": "alphabetic", "font": "Liberation Sans", "fontSize": 23, "color": "#000000"},
   "encoding": {
    "x": {"field": "t", "type": "quantitative", "axis": {"orient": "top", "values": [52,53,54,56,57,58,60,61,62,64,65,66], "tickSize": -9, "labels": false, "title": null}},
    "y": {"field": "v", "type": "quantitative", "axis": null},
    "text": {"field": "txt"}
   }},
  {"data": {"values": [
     {"txt":"B","t":53.411,"v":14.76,"s":"Btot"},
     {"txt":"B","t":54.215,"v":5.34,"s":"Bt"},
     {"txt":"B","t":55.676,"v":3.41,"s":"Bp"}]},
   "mark": {"type": "text", "align": "left", "baseline": "alphabetic", "font": "Liberation Sans", "fontSize": 23},
   "encoding": {
    "x": {"field": "t", "type": "quantitative", "axis": null},
    "y": {"field": "v", "type": "quantitative", "axis": null},
    "text": {"field": "txt"},
    "color": {"field": "s", "type": "nominal", "scale": {"domain": ["Btot","Bt","Bp"], "range": ["#f01010","#2424f0","#000000"]}, "legend": null}
   }},
  {"data": {"values": [
     {"txt":"tot","t":53.752,"v":14.03,"s":"Btot"},
     {"txt":"t","t":54.563,"v":5.01,"s":"Bt"},
     {"txt":"p","t":56.05,"v":3.43,"s":"Bp"}]},
   "mark": {"type": "text", "align": "left", "baseline": "alphabetic", "font": "Liberation Sans", "fontSize": 19},
   "encoding": {
    "x": {"field": "t", "type": "quantitative", "axis": null},
    "y": {"field": "v", "type": "quantitative", "axis": null},
    "text": {"field": "txt"},
    "color": {"field": "s", "type": "nominal", "legend": null}
   }},
  {"data": {"values": [
     {"txt":"Max(B","t":60.397,"v":19.75},
     {"txt":") = 23nT","t":63.315,"v":19.75}]},
   "mark": {"type": "text", "align": "left", "baseline": "alphabetic", "font": "Liberation Serif", "fontStyle": "italic", "fontSize": 32, "color": "#000000"},
   "encoding": {
    "x": {"field": "t", "type": "quantitative", "axis": null},
    "y": {"field": "v", "type": "quantitative", "axis": null},
    "text": {"field": "txt"}
   }},
  {"data": {"values": [{"txt":"tot","t":62.54,"v":19.03}]},
   "mark": {"type": "text", "align": "left", "baseline": "alphabetic", "font": "Liberation Serif", "fontStyle": "italic", "fontSize": 22, "color": "#000000"},
   "encoding": {
    "x": {"field": "t", "type": "quantitative", "axis": null},
    "y": {"field": "v", "type": "quantitative", "axis": null},
    "text": {"field": "txt"}
   }},
  {"data": {"values": [{"txt":"Time = Apr5,8(UT)","t":60.554,"v":15.31}]},
   "mark": {"type": "text", "align": "left", "baseline": "alphabetic", "font": "Liberation Serif", "fontStyle": "italic", "fontSize": 27, "color": "#000000"},
   "encoding": {
    "x": {"field": "t", "type": "quantitative", "axis": null},
    "y": {"field": "v", "type": "quantitative", "axis": null},
    "text": {"field": "txt"}
   }}
 ]
}
]
}
